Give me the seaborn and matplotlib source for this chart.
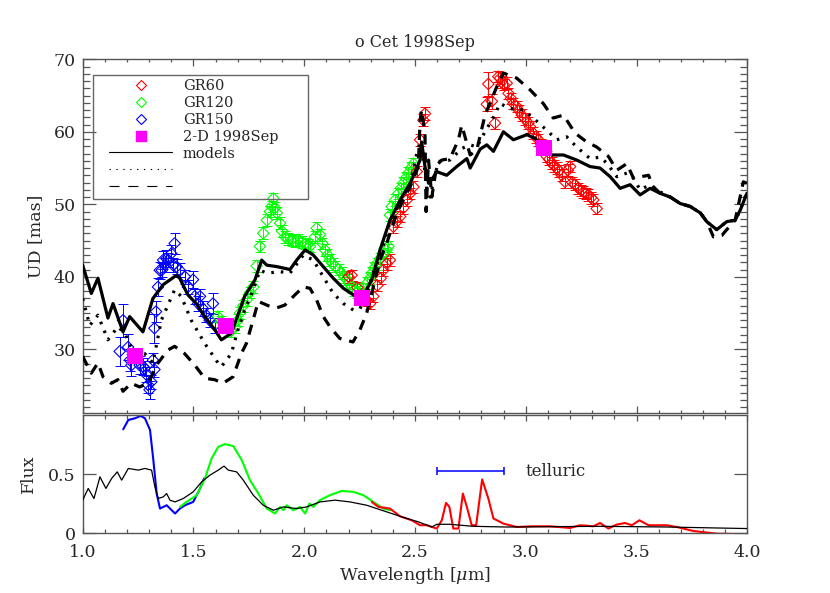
import matplotlib
matplotlib.use("Agg")
import matplotlib.pyplot as plt
import seaborn as sns
from matplotlib.lines import Line2D
from matplotlib.patches import Rectangle
from matplotlib.ticker import MultipleLocator, FixedLocator

# ---- model UD curves (wavelength in micron, UD in mas) ----
solid_wl = [1.000, 1.039, 1.069, 1.114, 1.137, 1.182, 1.212, 1.272, 1.317, 1.363,
            1.423, 1.438, 1.475, 1.513, 1.551, 1.596, 1.626, 1.671, 1.731, 1.778,
            1.808, 1.831, 1.876, 1.936, 1.966, 2.004, 2.041, 2.086, 2.131, 2.177,
            2.222, 2.244, 2.260, 2.305, 2.342, 2.387, 2.433, 2.478, 2.523, 2.530,
            2.545, 2.561, 2.576, 2.598, 2.643, 2.688, 2.734, 2.749, 2.794, 2.824,
            2.854, 2.899, 2.944, 3.005, 3.042, 3.117, 3.170, 3.230, 3.290, 3.335,
            3.381, 3.426, 3.471, 3.516, 3.561, 3.607, 3.652, 3.697, 3.742, 3.788,
            3.817, 3.862, 3.907, 3.945, 3.968, 3.998]
solid_ud = [41.6, 37.7, 39.8, 34.3, 36.3, 32.4, 34.5, 32.4, 37.0, 38.9,
            40.2, 39.8, 37.5, 36.3, 34.5, 32.7, 31.3, 32.2, 37.3, 39.6,
            42.3, 41.6, 41.4, 41.0, 42.3, 43.7, 43.0, 41.4, 39.8, 38.4,
            37.5, 37.0, 37.0, 39.6, 43.7, 47.8, 50.6, 52.9, 56.1, 58.6,
            55.2, 52.9, 53.4, 54.5, 54.0, 55.2, 56.3, 55.0, 57.6, 58.2,
            57.3, 60.0, 58.9, 59.6, 59.1, 56.8, 56.8, 56.1, 55.2, 55.0,
            53.8, 52.2, 52.7, 51.3, 52.2, 51.5, 51.0, 50.1, 49.7, 48.8,
            47.6, 46.5, 47.6, 47.8, 49.2, 51.5]

dot_wl = [1.000, 1.032, 1.069, 1.114, 1.159, 1.190, 1.227, 1.280, 1.317, 1.355,
          1.415, 1.445, 1.490, 1.551, 1.611, 1.626, 1.671, 1.701, 1.731, 1.770,
          1.800, 1.831, 1.891, 1.936, 1.996, 2.041, 2.086, 2.131, 2.177, 2.222,
          2.252, 2.282, 2.312, 2.342, 2.387, 2.433, 2.478, 2.508, 2.520, 2.538,
          2.553, 2.568, 2.605, 2.658, 2.711, 2.749, 2.779, 2.816, 2.854, 2.884,
          2.929, 2.989, 3.034, 3.095, 3.140, 3.185, 3.230, 3.290, 3.335, 3.365,
          3.411, 3.456, 3.486, 3.516, 3.561, 3.607, 3.652, 3.697, 3.742, 3.788,
          3.817, 3.862, 3.907, 3.945, 3.968, 3.998]
dot_ud = [37.0, 33.3, 34.7, 31.3, 33.1, 32.2, 29.7, 29.4, 28.1, 34.0,
          38.2, 37.3, 34.0, 30.8, 28.1, 27.6, 29.4, 32.7, 35.4, 38.2,
          40.9, 40.5, 40.7, 40.5, 43.0, 42.3, 40.0, 37.7, 36.3, 35.4,
          35.6, 37.7, 40.5, 42.8, 47.5, 50.4, 52.7, 57.0, 58.4, 56.3,
          52.0, 51.0, 55.9, 56.1, 57.7, 58.2, 57.9, 60.0, 62.0, 63.9,
          63.2, 63.0, 61.9, 60.2, 58.9, 59.3, 57.9, 56.3, 56.5, 55.7,
          53.8, 54.3, 53.6, 52.0, 52.7, 51.7, 51.0, 50.1, 49.7, 48.8,
          47.6, 46.5, 47.6, 47.8, 49.2, 51.7]

dash_wl = [1.000, 1.039, 1.069, 1.092, 1.129, 1.159, 1.182, 1.219, 1.257, 1.295,
           1.340, 1.385, 1.415, 1.460, 1.506, 1.551, 1.596, 1.633, 1.679, 1.716,
           1.739, 1.793, 1.838, 1.876, 1.913, 1.958, 1.996, 2.026, 2.056, 2.086,
           2.116, 2.160, 2.220, 2.252, 2.282, 2.312, 2.342, 2.372, 2.418, 2.478,
           2.515, 2.523, 2.530, 2.545, 2.550, 2.561, 2.576, 2.598, 2.621, 2.658,
           2.696, 2.711, 2.749, 2.779, 2.816, 2.869, 2.899, 2.959, 3.019, 3.079,
           3.124, 3.170, 3.223, 3.275, 3.320, 3.373, 3.411, 3.456, 3.486, 3.554,
           3.576, 3.607, 3.652, 3.697, 3.742, 3.788, 3.817, 3.847, 3.885, 3.907,
           3.945, 3.982, 3.998]
dash_ud = [29.0, 26.7, 28.1, 26.2, 25.3, 25.8, 24.2, 25.3, 24.8, 25.3,
           28.1, 29.9, 30.4, 29.4, 27.8, 26.0, 25.8, 25.3, 26.2, 29.4,
           30.8, 36.6, 36.0, 35.7, 36.1, 37.5, 38.6, 38.4, 36.8, 34.5,
           33.1, 31.5, 31.0, 32.7, 35.0, 38.6, 42.3, 44.6, 48.8, 52.4,
           55.2, 61.6, 63.0, 59.8, 49.0, 56.1, 51.0, 55.4, 56.1, 56.3,
           58.9, 60.9, 56.8, 57.5, 62.3, 66.2, 68.1, 67.4, 65.8, 63.9,
           61.9, 62.3, 59.8, 58.6, 57.9, 56.6, 54.7, 55.6, 53.6, 54.0,
           52.4, 51.5, 51.0, 50.1, 49.7, 48.8, 47.6, 45.5, 45.7, 46.5,
           47.8, 53.1, 52.9]

# ---- measured UD (diamonds with error bars) ----
gr150_wl = [1.167, 1.182, 1.205, 1.213, 1.220, 1.257, 1.272, 1.280, 1.287, 1.295,
            1.302, 1.310, 1.317, 1.324, 1.324, 1.331, 1.340, 1.348, 1.357, 1.363,
            1.372, 1.378, 1.387, 1.400, 1.408, 1.415, 1.424, 1.438, 1.462, 1.475,
            1.498, 1.506, 1.521, 1.530, 1.543, 1.558, 1.573, 1.588, 1.596]
gr150_ud = [29.7, 34.0, 30.3, 28.5, 27.8, 27.8, 27.6, 27.4, 26.5, 25.1,
            24.4, 25.5, 28.5, 27.2, 32.9, 35.2, 38.6, 40.9, 40.9, 42.3,
            41.6, 42.5, 42.3, 43.2, 41.6, 44.6, 41.4, 40.9, 40.0, 38.6,
            39.6, 37.3, 36.3, 37.3, 35.6, 34.7, 34.0, 36.3, 33.3]
gr150_err = [2.0, 2.3, 1.8, 1.5, 1.5, 1.2, 1.2, 1.0, 1.0, 1.2,
             1.2, 1.0, 1.0, 1.0, 2.0, 1.5, 1.2, 1.2, 1.0, 1.2,
             1.0, 1.2, 1.0, 1.2, 1.0, 1.5, 1.0, 1.0, 1.0, 1.0,
             1.2, 1.0, 1.0, 1.0, 1.0, 1.0, 1.0, 1.5, 1.0]

gr120_wl = [1.611, 1.625, 1.670, 1.688, 1.700, 1.710, 1.725, 1.740, 1.755, 1.770,
            1.785, 1.800, 1.815, 1.831, 1.845, 1.853, 1.861, 1.868, 1.876, 1.891,
            1.900, 1.913, 1.928, 1.943, 1.958, 1.973, 1.990, 2.004, 2.015, 2.026,
            2.048, 2.056, 2.071, 2.082, 2.094, 2.105, 2.116, 2.128, 2.139, 2.155,
            2.169, 2.180, 2.192, 2.203, 2.214, 2.226, 2.237, 2.252, 2.267, 2.282,
            2.297, 2.305, 2.316, 2.327, 2.342, 2.357, 2.372, 2.380, 2.387, 2.395,
            2.410, 2.425, 2.436, 2.447, 2.458, 2.470, 2.481, 2.493]
gr120_ud = [34.5, 33.8, 32.5, 33.1, 34.0, 35.0, 36.0, 36.8, 37.8, 38.6,
            41.5, 44.2, 46.0, 47.8, 49.0, 49.7, 50.8, 49.5, 48.8, 47.4,
            46.3, 45.5, 45.2, 45.1, 44.9, 45.1, 44.8, 44.6, 44.4, 44.2,
            45.5, 46.7, 45.8, 44.6, 43.7, 43.0, 42.3, 41.8, 41.4, 41.0,
            40.5, 40.0, 39.6, 39.1, 38.6, 38.2, 37.9, 37.7, 38.4, 39.1,
            39.8, 40.5, 41.2, 41.8, 42.5, 43.2, 43.7, 44.2, 48.5, 49.7,
            50.6, 51.5, 52.2, 52.9, 53.6, 54.3, 55.0, 55.6]
gr120_err = 0.8

gr60_wl = [2.200, 2.214, 2.240, 2.270, 2.282, 2.297, 2.312, 2.330, 2.345, 2.357,
           2.372, 2.387, 2.402, 2.418, 2.433, 2.448, 2.463, 2.478, 2.493, 2.508,
           2.523, 2.538, 2.545,
           2.824, 2.831, 2.847, 2.861, 2.876, 2.884, 2.891, 2.900, 2.914, 2.922,
           2.933, 2.944, 2.959, 2.970, 2.982, 2.995, 3.012, 3.019, 3.034, 3.045,
           3.057, 3.070, 3.095, 3.105, 3.117, 3.128, 3.140, 3.150, 3.162, 3.177,
           3.190, 3.200, 3.210, 3.223, 3.237, 3.250, 3.260, 3.272, 3.283, 3.295,
           3.305, 3.320]
gr60_ud = [40.0, 40.2, 38.5, 37.0, 36.8, 36.3, 37.3, 38.8, 39.8, 40.9,
           41.8, 42.3, 46.9, 47.6, 48.3, 49.5, 50.6, 51.5, 52.4, 54.5,
           58.9, 61.6, 62.5,
           63.8, 66.6, 64.2, 61.2, 67.6, 67.4, 66.9, 66.5, 66.7, 65.3,
           64.6, 63.9, 63.5, 62.9, 62.3, 61.8, 61.2, 60.7, 59.8, 59.3,
           58.9, 58.2, 56.6, 56.2, 55.7, 55.3, 55.0, 54.6, 54.0, 53.1,
           54.7, 55.2, 53.0, 52.7, 52.2, 51.9, 51.7, 51.5, 51.3, 50.9,
           50.6, 49.4]
gr60_err = [0.8, 0.8, 0.8, 0.8, 0.8, 0.8, 0.8, 0.8, 0.8, 0.8,
            0.8, 0.8, 0.8, 0.8, 0.8, 0.8, 0.8, 0.8, 0.8, 0.8,
            0.8, 0.8, 0.9,
            1.0, 1.6, 1.0, 0.8, 0.8, 0.8, 0.8, 0.8, 0.8, 0.8,
            0.8, 0.8, 0.8, 0.8, 0.8, 0.8, 0.8, 0.8, 0.8, 0.8,
            0.8, 0.8, 0.8, 0.8, 0.8, 0.8, 0.8, 0.8, 0.8, 0.8,
            0.8, 0.8, 0.8, 0.8, 0.8, 0.8, 0.8, 0.8, 0.8, 0.8,
            0.8, 0.8]

# 2-D 1998Sep points
sq_wl = [1.236, 1.646, 2.260, 3.080]
sq_ud = [29.1, 33.2, 37.0, 57.7]

# ---- flux panel ----
mflux_wl = [1.000, 1.025, 1.051, 1.078, 1.105, 1.131, 1.156, 1.176, 1.206, 1.251,
            1.281, 1.311, 1.326, 1.341, 1.364, 1.379, 1.394, 1.417, 1.454, 1.499,
            1.537, 1.575, 1.612, 1.638, 1.657, 1.695, 1.725, 1.770, 1.815, 1.861,
            1.906, 1.966, 2.011, 2.071, 2.139, 2.207, 2.282, 2.372, 2.463, 2.515,
            2.576, 2.598, 2.658, 2.763, 2.914, 3.335, 3.637, 3.998]
mflux = [0.280, 0.379, 0.294, 0.477, 0.379, 0.464, 0.519, 0.449, 0.548, 0.534,
         0.548, 0.534, 0.392, 0.294, 0.308, 0.336, 0.280, 0.265, 0.294, 0.350,
         0.435, 0.492, 0.534, 0.568, 0.534, 0.519, 0.449, 0.322, 0.237, 0.195,
         0.223, 0.209, 0.223, 0.265, 0.280, 0.265, 0.237, 0.181, 0.125, 0.097,
         0.053, 0.076, 0.076, 0.059, 0.053, 0.059, 0.053, 0.040]

bflux_wl = [1.183, 1.206, 1.236, 1.262, 1.281, 1.304, 1.319, 1.334, 1.349, 1.364,
            1.379, 1.402, 1.417, 1.439, 1.462, 1.499, 1.530, 1.548]
bflux = [0.879, 0.958, 0.972, 0.992, 0.972, 0.873, 0.619, 0.336, 0.209, 0.223,
         0.237, 0.195, 0.167, 0.209, 0.237, 0.265, 0.379, 0.464]

gflux_wl = [1.439, 1.469, 1.515, 1.552, 1.582, 1.612, 1.642, 1.680, 1.718, 1.755,
            1.793, 1.831, 1.868, 1.891, 1.906, 1.921, 1.951, 1.981, 2.004, 2.023,
            2.041, 2.071, 2.116, 2.169, 2.222, 2.267, 2.312, 2.357, 2.387]
gflux = [0.223, 0.265, 0.322, 0.464, 0.633, 0.731, 0.754, 0.737, 0.619, 0.449,
         0.336, 0.209, 0.167, 0.223, 0.195, 0.237, 0.195, 0.223, 0.167, 0.252,
         0.223, 0.280, 0.322, 0.358, 0.350, 0.322, 0.265, 0.209, 0.195]

rflux_wl = [2.305, 2.335, 2.387, 2.432, 2.485, 2.523, 2.553, 2.598, 2.621, 2.640,
            2.655, 2.673, 2.696, 2.716, 2.734, 2.756, 2.776, 2.803, 2.831, 2.854,
            2.899, 2.959, 3.034, 3.110, 3.200, 3.245, 3.305, 3.335, 3.373, 3.411,
            3.448, 3.479, 3.513, 3.554, 3.637, 3.682, 3.757, 3.862, 3.998]
rflux = [0.265, 0.223, 0.209, 0.144, 0.110, 0.068, 0.068, 0.040, 0.110, 0.257,
         0.223, 0.040, 0.040, 0.336, 0.223, 0.068, 0.068, 0.455, 0.294, 0.125,
         0.082, 0.053, 0.059, 0.059, 0.045, 0.068, 0.059, 0.087, 0.040, 0.074,
         0.087, 0.068, 0.110, 0.068, 0.068, 0.053, 0.019, -0.003, -0.008]

telluric_range = [2.6, 2.9]
telluric_level = 0.525

# ---- style ----
sns.set_style("ticks")
plt.rcParams["font.family"] = ["DejaVu Serif"]
plt.rcParams["mathtext.fontset"] = "dejavuserif"
axcol = "#555555"

fig = plt.figure(figsize=(8.3, 5.93), dpi=100)
ax1 = fig.add_axes([0.0996, 0.3035, 0.8008, 0.5965])
ax2 = fig.add_axes([0.0996, 0.1007, 0.8008, 0.1995])

# data points with error bars
for wl, ud, err, col in [(gr150_wl, gr150_ud, gr150_err, "blue"),
                         (gr120_wl, gr120_ud, gr120_err, "#00ff00"),
                         (gr60_wl, gr60_ud, gr60_err, "red")]:
    ax1.errorbar(wl, ud, yerr=err, fmt="none", ecolor=col, elinewidth=0.7,
                 capsize=3.8, capthick=0.7, zorder=2)
    sns.scatterplot(x=wl, y=ud, ax=ax1, marker="D", s=34, facecolor="none",
                    edgecolor=col, linewidth=0.8, zorder=3)

# models
sns.lineplot(x=solid_wl, y=solid_ud, ax=ax1, color="black", lw=2.3,
             sort=False, estimator=None, zorder=4)
sns.lineplot(x=dot_wl, y=dot_ud, ax=ax1, color="black", lw=2.3,
             linestyle=(0, (0.8, 2.2)), sort=False, estimator=None, zorder=4)
sns.lineplot(x=dash_wl, y=dash_ud, ax=ax1, color="black", lw=2.3,
             linestyle=(0, (3.2, 2.5)), sort=False, estimator=None, zorder=4)

sns.scatterplot(x=sq_wl, y=sq_ud, ax=ax1, marker="s", s=135, color="#ff00ff",
                linewidth=0, zorder=6)

ax1.set_xlim(1.0, 4.0)
ax1.set_ylim(21.2, 70.0)
ax1.xaxis.set_major_locator(MultipleLocator(0.5))
ax1.xaxis.set_minor_locator(MultipleLocator(0.1))
ax1.yaxis.set_major_locator(MultipleLocator(10))
ax1.yaxis.set_minor_locator(MultipleLocator(1))
ax1.tick_params(axis="x", which="major", direction="in", length=5, width=0.9,
                top=True, bottom=True, labelbottom=False, color=axcol)
ax1.tick_params(axis="x", which="minor", direction="in", length=2.5, width=0.9,
                top=True, bottom=True, color=axcol)
ax1.tick_params(axis="y", which="major", direction="in", length=9.4, width=0.9,
                left=True, right=True, labelsize=12.5, pad=5, color=axcol)
ax1.tick_params(axis="y", which="minor", direction="in", length=4.7, width=0.9,
                left=True, right=True, color=axcol)
ax1.set_ylabel("UD [mas]", fontsize=12.5)
ax1.yaxis.set_label_coords(-0.058, 0.5)
ax1.set_title("o Cet 1998Sep", fontsize=11.5, pad=9)

handles = [
    Line2D([], [], ls="none", marker="D", mfc="none", mec="red", ms=5.2, mew=0.8),
    Line2D([], [], ls="none", marker="D", mfc="none", mec="#00ff00", ms=5.2, mew=0.8),
    Line2D([], [], ls="none", marker="D", mfc="none", mec="blue", ms=5.2, mew=0.8),
    Line2D([], [], ls="none", marker="s", color="#ff00ff", ms=7.5),
    Line2D([], [], color="black", lw=0.8),
    Line2D([], [], color="black", lw=0.8, ls=(0, (1.2, 5))),
    Line2D([], [], color="black", lw=0.8, ls=(0, (9, 8))),
]
labels = ["GR60", "GR120", "GR150", "2-D 1998Sep", "models", "", ""]
ax1.legend(handles, labels, loc="upper left", bbox_to_anchor=(0.040, 0.9445),
           frameon=False, borderpad=0, borderaxespad=0, handlelength=4.3,
           handletextpad=0.75, labelspacing=0.2, fontsize=10.5, numpoints=1)
ax1.add_patch(Rectangle((0.016, 0.606), 0.323, 0.350, transform=ax1.transAxes,
                        fill=False, edgecolor="#666666", lw=1.0, zorder=7))

# flux panel
sns.lineplot(x=mflux_wl, y=mflux, ax=ax2, color="black", lw=0.9,
             sort=False, estimator=None, zorder=3)
sns.lineplot(x=bflux_wl, y=bflux, ax=ax2, color="blue", lw=1.5,
             sort=False, estimator=None, zorder=2)
sns.lineplot(x=gflux_wl, y=gflux, ax=ax2, color="#00ff00", lw=1.5,
             sort=False, estimator=None, zorder=2)
sns.lineplot(x=rflux_wl, y=rflux, ax=ax2, color="red", lw=1.5,
             sort=False, estimator=None, zorder=2)

tmid = (telluric_range[0] + telluric_range[1]) / 2
thalf = (telluric_range[1] - telluric_range[0]) / 2
ax2.errorbar([tmid], [telluric_level], xerr=[thalf], fmt="none", ecolor="blue",
             elinewidth=1.1, capsize=2.6, capthick=1.1)
ax2.text(telluric_range[1] + 0.1, telluric_level, "telluric", fontsize=12,
         va="center", ha="left")

ax2.set_xlim(1.0, 4.0)
ax2.set_ylim(0.0, 1.0)
ax2.xaxis.set_major_locator(MultipleLocator(0.5))
ax2.xaxis.set_minor_locator(MultipleLocator(0.1))
ax2.yaxis.set_major_locator(FixedLocator([0.0, 0.5]))
ax2.set_yticklabels(["0", "0.5"])
ax2.xaxis.set_major_formatter(matplotlib.ticker.FormatStrFormatter("%.1f"))
ax2.tick_params(axis="x", which="major", direction="in", length=4.3, width=0.9,
                top=True, bottom=True, labelsize=12.5, pad=8, color=axcol)
ax2.tick_params(axis="x", which="minor", direction="in", length=2.9, width=0.9,
                top=True, bottom=True, color=axcol)
ax2.tick_params(axis="y", which="major", direction="in", length=9.4, width=0.9,
                left=True, right=True, labelsize=12.5, pad=5, color=axcol)
ax2.set_xlabel(r"Wavelength [$\mu$m]", fontsize=12.5)
ax2.xaxis.set_label_coords(0.5, -0.265)
ax2.set_ylabel("Flux", fontsize=12.5)
ax2.yaxis.set_label_coords(-0.069, 0.5)

for ax in (ax1, ax2):
    for sp in ax.spines.values():
        sp.set_color(axcol)
        sp.set_linewidth(1.0)

fig.savefig("out.png", dpi=100)
